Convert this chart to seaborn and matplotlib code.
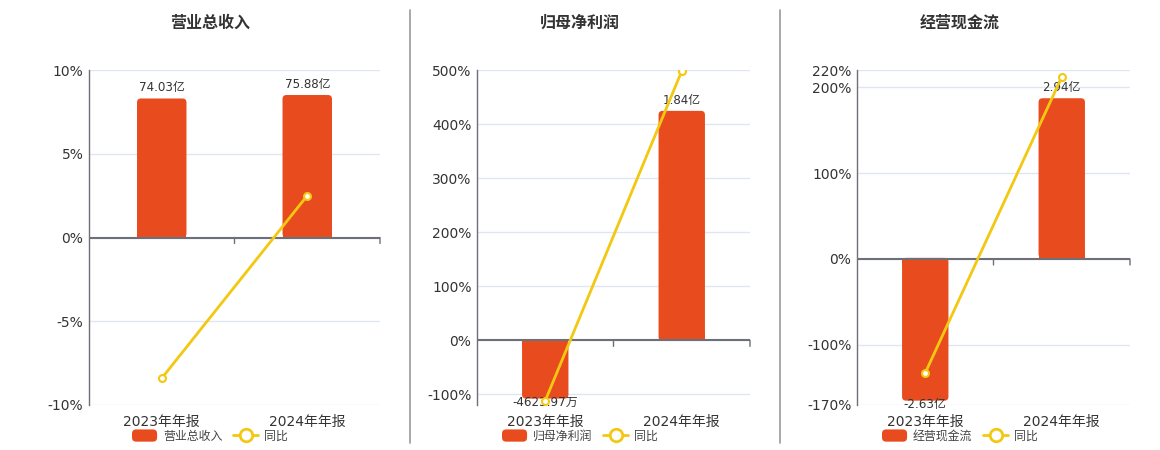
import numpy as np
import pandas as pd
import matplotlib
matplotlib.use("Agg")
import matplotlib.pyplot as plt
import matplotlib.patches as mpatches
from matplotlib.lines import Line2D
from matplotlib.legend_handler import HandlerPatch
from matplotlib.transforms import IdentityTransform
import seaborn as sns

# ---------------- data ----------------
categories = ["2023年年报", "2024年年报"]

titles = ["营业总收入", "归母净利润", "经营现金流"]

# bar values in 亿元
revenue = [74.03, 75.88]
net_profit = [-0.462397, 1.84]
cash_flow = [-2.63, 2.94]

# bar labels
revenue_labels = ["74.03亿", "75.88亿"]
net_profit_labels = ["-4623.97万", "1.84亿"]
cash_flow_labels = ["-2.63亿", "2.94亿"]

# year-over-year growth, %
revenue_yoy = [-8.4, 2.5]
net_profit_yoy = [-111.5, 498.0]
cash_flow_yoy = [-132.6, 211.8]

# left axis ticks (%)
revenue_ticks = [-10, -5, 0, 5, 10]
net_profit_ticks = [-100, 0, 100, 200, 300, 400, 500]
cash_flow_ticks = [-170, -100, 0, 100, 200, 220]

# ---------------- style ----------------
sns.set_theme(style="white")
plt.rcParams["font.family"] = ["DejaVu Sans", "Noto Sans CJK SC"]

BAR_COLOR = "#E84C1E"
LINE_COLOR = "#F2C811"
TEXT_COLOR = "#333333"
AXIS_COLOR = "#6E7079"
GRID_COLOR = "#E0E6F1"

W, H = 1160, 450
fig = plt.figure(figsize=(W / 100, H / 100), dpi=100)
fig.patch.set_facecolor("white")


def px_rect(x0, y0, x1, y1):
    return [x0 / W, 1 - y1 / H, (x1 - x0) / W, (y1 - y0) / H]


def rounded_handle(legend, orig_handle, xdescent, ydescent, width, height, fontsize):
    return mpatches.FancyBboxPatch((-xdescent, -ydescent), width, height,
                                   boxstyle="round,pad=0,rounding_size=3")


panels = [
    dict(title=titles[0], bars=revenue, labels=revenue_labels, yoy=revenue_yoy,
         ticks=revenue_ticks, ylim=(-10, 10), blim=(-89.2, 89.2),
         rect=(89, 70, 380, 405), center=210),
    dict(title=titles[1], bars=net_profit, labels=net_profit_labels, yoy=net_profit_yoy,
         ticks=net_profit_ticks, ylim=(-119.5, 500), blim=(-0.514, 2.167),
         rect=(477, 70, 750, 405), center=580),
    dict(title=titles[2], bars=cash_flow, labels=cash_flow_labels, yoy=cash_flow_yoy,
         ticks=cash_flow_ticks, ylim=(-170, 220), blim=(-2.71, 3.46),
         rect=(857, 70, 1130, 405), center=960),
]

for p in panels:
    df = pd.DataFrame({"period": categories, "value": p["bars"], "yoy": p["yoy"]})

    ax = fig.add_axes(px_rect(*p["rect"]))
    ax.set_ylim(*p["ylim"])
    for t in p["ticks"]:
        ax.axhline(t, color=GRID_COLOR, lw=1, zorder=0)
    for s in ["top", "right", "bottom"]:
        ax.spines[s].set_visible(False)
    ax.spines["left"].set_color(AXIS_COLOR)
    ax.spines["left"].set_linewidth(1)

    # bars on hidden secondary axis
    axb = ax.twinx()
    sns.barplot(data=df, x="period", y="value", ax=axb, color=BAR_COLOR,
                width=0.34, saturation=1, errorbar=None)
    axb.set_ylim(*p["blim"])
    axb.set_xlim(-0.5, 1.5)
    axb.set_yticks([])
    axb.set_ylabel("")
    for s in axb.spines.values():
        s.set_visible(False)
    axb.patch.set_visible(False)

    # line axis on top
    axl = ax.twinx()
    sns.lineplot(data=df, x="period", y="yoy", ax=axl, color=LINE_COLOR, lw=2,
                 marker="o", markersize=5, markerfacecolor="white",
                 markeredgecolor=LINE_COLOR, markeredgewidth=1.5, zorder=5)
    axl.set_ylim(*p["ylim"])
    axl.set_xlim(-0.5, 1.5)
    axl.axhline(0, color=AXIS_COLOR, lw=1.5, zorder=3)
    for xb in [0.5, 1.5]:
        axl.annotate("", xy=(xb, 0), xytext=(0, -6), textcoords="offset pixels",
                     arrowprops=dict(arrowstyle="-", color=AXIS_COLOR, lw=1,
                                     shrinkA=0, shrinkB=0),
                     annotation_clip=False)
    axl.set_yticks([])
    axl.set_ylabel("")
    for s in axl.spines.values():
        s.set_visible(False)
    axl.patch.set_visible(False)

    # primary axis ticks and labels
    ax.set_xlim(-0.5, 1.5)
    ax.set_ylim(*p["ylim"])
    ax.set_yticks(p["ticks"])
    ax.set_yticklabels([f"{t}%" for t in p["ticks"]])
    ax.tick_params(axis="y", length=0, labelsize=10, labelcolor=TEXT_COLOR, pad=4)
    ax.set_xticks([0, 1])
    ax.set_xticklabels(categories)
    ax.tick_params(axis="x", length=0, labelsize=10, labelcolor=TEXT_COLOR, pad=7)
    ax.set_xlabel("")
    ax.set_ylabel("")

    # rounded far corners of bars
    fig.canvas.draw()
    zy = axb.transData.transform((0, 0))[1]
    for patch, val, lab in zip(list(axb.patches), p["bars"], p["labels"]):
        x0, y0 = patch.get_x(), patch.get_y()
        w, h = patch.get_width(), patch.get_height()
        (dx0, dy0) = axb.transData.transform((x0, min(y0, y0 + h)))
        (dx1, dy1) = axb.transData.transform((x0 + w, max(y0, y0 + h)))
        patch.set_visible(False)
        r = 4
        rounded = mpatches.FancyBboxPatch((dx0, dy0), dx1 - dx0, dy1 - dy0,
                                          boxstyle=f"round,pad=0,rounding_size={r}",
                                          transform=IdentityTransform(),
                                          facecolor=BAR_COLOR, edgecolor="none",
                                          zorder=2)
        axb.add_artist(rounded)
        if val >= 0:
            hh = min(2 * r, dy1 - zy)
            sq = mpatches.Rectangle((dx0, zy), dx1 - dx0, hh,
                                    transform=IdentityTransform(),
                                    facecolor=BAR_COLOR, edgecolor="none", zorder=2)
        else:
            hh = min(2 * r, zy - dy0)
            sq = mpatches.Rectangle((dx0, zy - hh), dx1 - dx0, hh,
                                    transform=IdentityTransform(),
                                    facecolor=BAR_COLOR, edgecolor="none", zorder=2)
        axb.add_artist(sq)
        cx = x0 + w / 2
        if val >= 0:
            axb.annotate(lab, (cx, val), xytext=(0, 4), textcoords="offset pixels",
                         ha="center", va="bottom", fontsize=8.6, color=TEXT_COLOR,
                         zorder=6, annotation_clip=False)
        else:
            axb.annotate(lab, (cx, val), xytext=(0, 3), textcoords="offset pixels",
                         ha="center", va="top", fontsize=8.6, color=TEXT_COLOR,
                         zorder=6, annotation_clip=False)

    # title
    fig.text(p["center"] / W, 1 - 23 / H, p["title"], ha="center", va="center",
             fontsize=11.5, fontweight="bold", color=TEXT_COLOR)

    # legend
    handles = [
        mpatches.Patch(facecolor=BAR_COLOR, edgecolor="none", label=p["title"]),
        Line2D([0], [0], color=LINE_COLOR, lw=2, marker="o", markersize=9,
               markerfacecolor="white", markeredgecolor=LINE_COLOR,
               markeredgewidth=2, label="同比"),
    ]
    fig.legend(handles=handles, loc="center",
               bbox_to_anchor=(p["center"] / W, 1 - 436 / H), ncol=2, frameon=False,
               fontsize=8.6, handlelength=2.1, handleheight=1.2, handletextpad=0.5,
               columnspacing=0.9, labelcolor="#444444",
               handler_map={mpatches.Patch: HandlerPatch(patch_func=rounded_handle)})

# separators
for xs in [410, 780]:
    fig.add_artist(Line2D([xs / W, xs / W], [1 - 10 / H, 1 - 443 / H],
                          transform=fig.transFigure, color="#999999", lw=1.2))

fig.savefig("out.png", dpi=100, facecolor="white")
